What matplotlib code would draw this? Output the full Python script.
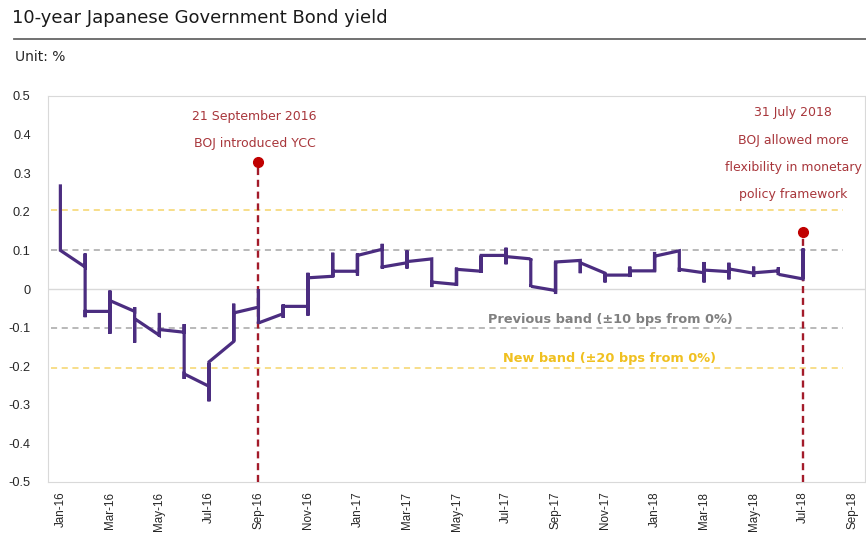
#!/usr/bin/env python3
import numpy as np
import pandas as pd
import matplotlib
matplotlib.use('Agg')
from matplotlib import pyplot as plt
from matplotlib.lines import Line2D

##### DATA (monthly: first, high, low, last value of the 10y JGB yield, %)
MONTHS = pd.date_range('2016-01-01', '2018-09-01', freq='MS').strftime('%b-%y').tolist()
opens = [0.267, 0.057, -0.058, -0.058, -0.120, -0.112, -0.252, -0.136, -0.047, -0.064, -0.045, 0.033,
         0.046, 0.103, 0.068, 0.078, 0.012, 0.046, 0.087, 0.078, -0.004, 0.074, 0.041, 0.036,
         0.047, 0.099, 0.042, 0.045, 0.041, 0.047, 0.026]
highs = [0.267, 0.092, -0.004, -0.047, -0.062, -0.091, -0.192, -0.038, 0.000, -0.040, 0.042, 0.094,
         0.092, 0.117, 0.100, 0.078, 0.055, 0.087, 0.107, 0.079, 0.070, 0.074, 0.041, 0.058,
         0.096, 0.099, 0.070, 0.068, 0.058, 0.056, 0.105]
lows = [0.100, -0.073, -0.116, -0.139, -0.123, -0.233, -0.291, -0.136, -0.090, -0.075, -0.069, 0.031,
        0.035, 0.053, 0.053, 0.005, 0.009, 0.042, 0.064, 0.005, -0.013, 0.041, 0.017, 0.031,
        0.045, 0.045, 0.017, 0.025, 0.031, 0.036, 0.026]
closes = [0.100, -0.058, -0.030, -0.077, -0.105, -0.220, -0.189, -0.062, -0.088, -0.045, 0.029, 0.046,
          0.087, 0.057, 0.071, 0.018, 0.051, 0.087, 0.084, 0.007, 0.070, 0.068, 0.036, 0.047,
          0.085, 0.051, 0.049, 0.052, 0.042, 0.038, 0.060]

# policy events
EVENT_MONTHS = ['Sep-16', 'Jul-18']
EVENT_DOTS = [0.33, 0.147]
EVENT_TEXT = ['21 September 2016\nBOJ introduced YCC',
              '31 July 2018\nBOJ allowed more\nflexibility in monetary\npolicy framework']
PREV_BAND = 0.10
NEW_BAND = 0.205
##############

PURPLE = '#4b2d80'
RED = '#a31b2a'
DOT = '#c00000'
TXT_RED = '#a8363b'
GREY_BAND = '#a6a6a6'
YELLOW_BAND = '#f5d56a'

fig = plt.figure(figsize=(8.66, 5.38), dpi=100)
ax = fig.add_axes([48 / 866, 1 - 482 / 538, 817 / 866, 386 / 538])

# line through every value of a month at that month's position
xs, ys = [], []
for i in range(len(opens)):
    xs += [i] * 4
    ys += [opens[i], highs[i], lows[i], closes[i]]

# bands
band_x = [-0.36, 31.6]
for v in (PREV_BAND, -PREV_BAND):
    ax.plot(band_x, [v, v], color=GREY_BAND, lw=1.1, ls=(0, (4, 3)), zorder=2)
for v in (NEW_BAND, -NEW_BAND):
    ax.plot(band_x, [v, v], color=YELLOW_BAND, lw=1.1, ls=(0, (4, 3)), zorder=2)
ax.axhline(0, color='#d9d9d9', lw=1, zorder=1)

# events
for m, d in zip(EVENT_MONTHS, EVENT_DOTS):
    ex = MONTHS.index(m)
    ax.plot([ex, ex], [-0.5, d], color=RED, lw=1.7, ls=(0, (3, 2)), zorder=3)
    ax.plot(ex, d, 'o', color=DOT, ms=7, zorder=5)

ax.plot(xs, ys, color=PURPLE, lw=2.3, solid_joinstyle='miter', zorder=4)

# event notes
ax.text(7.85, 0.446, '21 September 2016', color=TXT_RED, ha='center', va='center', fontsize=9)
ax.text(7.85, 0.378, 'BOJ introduced YCC', color=TXT_RED, ha='center', va='center', fontsize=9)
for yy, s in zip([0.456, 0.384, 0.316, 0.246], EVENT_TEXT[1].split('\n')):
    ax.text(29.6, yy, s, color=TXT_RED, ha='center', va='center', fontsize=9, clip_on=False)

ax.text(22.2, -0.078, 'Previous band (±10 bps from 0%)', color='#808080', ha='center', va='center',
        fontsize=9.3, fontweight='semibold')
ax.text(22.2, -0.179, 'New band (±20 bps from 0%)', color='#f0c020', ha='center', va='center',
        fontsize=9.3, fontweight='semibold')

# axes
ax.set_xlim(-0.5, 32.5)
ax.set_ylim(-0.5, 0.5)
ax.set_xticks(range(0, len(MONTHS), 2))
ax.set_xticklabels(MONTHS[::2], rotation=90, fontsize=8.4, family='Liberation Sans', color='#262626')
yt = np.round(np.arange(-0.5, 0.51, 0.1), 1)
ax.set_yticks(yt)
ax.set_yticklabels(['0' if v == 0 else f'{v:g}' for v in yt], fontsize=9.2,
                   family='Liberation Sans', color='#262626')
ax.tick_params(length=0)
ax.tick_params(axis='y', pad=12.5)
ax.tick_params(axis='x', pad=7)
for sp in ax.spines.values():
    sp.set_color('#d9d9d9')

# title block
fig.text(12 / 866, 1 - 18 / 538, '10-year Japanese Government Bond yield', fontsize=13,
         color='#1a1a1a', va='center')
fig.add_artist(Line2D([14 / 866, 1], [1 - 38.7 / 538] * 2, color='#666666', lw=1.3))
fig.text(15 / 866, 1 - 57 / 538, 'Unit: %', fontsize=10, color='#262626', va='center')

fig.savefig('out.png', dpi=100, facecolor='w')
